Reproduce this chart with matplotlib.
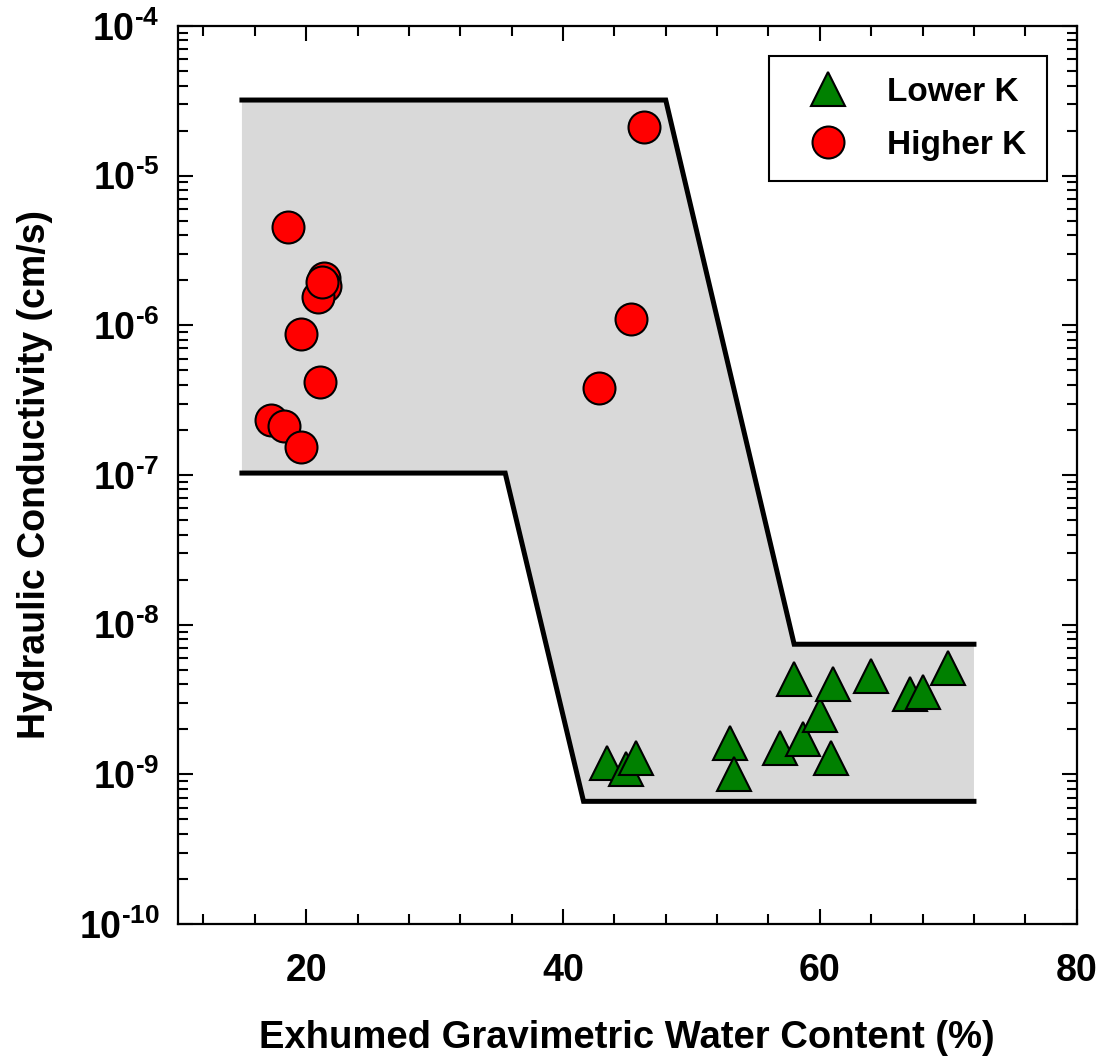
import matplotlib
matplotlib.use('Agg')
import matplotlib.pyplot as plt
import numpy as np
from matplotlib.ticker import FixedLocator, NullFormatter, FuncFormatter

plt.rcParams['font.family'] = ['Liberation Sans', 'DejaVu Sans']
plt.rcParams['font.weight'] = 'bold'
plt.rcParams['mathtext.fontset'] = 'custom'
plt.rcParams['mathtext.rm'] = 'Liberation Sans:bold'
plt.rcParams['mathtext.bf'] = 'Liberation Sans:bold'
plt.rcParams['mathtext.it'] = 'Liberation Sans:bold'
plt.rcParams['mathtext.default'] = 'regular'

# data
lower_x = [43.4, 44.9, 45.7, 53.0, 53.3, 56.9, 58.7, 60.0, 60.9, 58.0, 61.0, 64.0, 67.0, 68.0, 70.0]
lower_k = [1.19e-9, 1.08e-9, 1.29e-9, 1.63e-9, 1.0e-9, 1.51e-9, 1.73e-9, 2.48e-9, 1.29e-9,
           4.35e-9, 4.02e-9, 4.57e-9, 3.46e-9, 3.56e-9, 5.1e-9]

higher_x = [18.6, 21.4, 21.5, 20.9, 21.2, 19.6, 21.1, 17.3, 18.3, 19.6, 46.3, 45.3, 42.8]
higher_k = [4.56e-6, 2.07e-6, 1.84e-6, 1.54e-6, 1.94e-6, 8.7e-7, 4.17e-7, 2.34e-7, 2.14e-7,
            1.53e-7, 2.12e-5, 1.11e-6, 3.8e-7]

# envelope
upper_x = [15, 48, 58, 72]
upper_k = [3.2e-5, 3.2e-5, 7.4e-9, 7.4e-9]
bottom_x = [15, 35.5, 41.6, 72]
bottom_k = [1.03e-7, 1.03e-7, 6.6e-10, 6.6e-10]

x_major = [20, 40, 60, 80]
x_minor = [12, 16, 24, 28, 32, 36, 44, 48, 52, 56, 64, 68, 72, 76]
y_decades = [-10, -9, -8, -7, -6, -5, -4]

fig = plt.figure(figsize=(10.99, 10.60), dpi=100)
ax = fig.add_axes([0.1617, 0.1283, 0.818, 0.8472])

poly_x = upper_x + bottom_x[::-1]
poly_k = upper_k + bottom_k[::-1]
ax.fill(poly_x, poly_k, color='#d9d9d9', lw=0, zorder=1)
ax.plot(upper_x, upper_k, color='black', lw=3.6, zorder=2, solid_joinstyle='miter')
ax.plot(bottom_x, bottom_k, color='black', lw=3.6, zorder=2, solid_joinstyle='miter')

ax.plot(lower_x, lower_k, ls='none', marker='^', ms=25, mfc='#008000', mec='black',
        mew=1.5, label='Lower K', zorder=3)
ax.plot(higher_x, higher_k, ls='none', marker='o', ms=23, mfc='#ff0000', mec='black',
        mew=1.5, label='Higher K', zorder=3)

ax.set_yscale('log')
ax.set_xlim(10, 80)
ax.set_ylim(1e-10, 1e-4)

ax.xaxis.set_major_locator(FixedLocator(x_major))
ax.xaxis.set_minor_locator(FixedLocator(x_minor))
ax.yaxis.set_major_locator(FixedLocator([10.0 ** d for d in y_decades]))
ax.yaxis.set_minor_locator(FixedLocator([m * 10.0 ** d for d in y_decades[:-1] for m in range(2, 10)]))
ax.yaxis.set_minor_formatter(NullFormatter())
ax.yaxis.set_major_formatter(FuncFormatter(
    lambda v, p: r'$10^{\text{%d}}$' % int(round(np.log10(v)))))

ax.tick_params(which='both', direction='in', top=True, right=True, width=1.5,
               labelsize=27)
ax.tick_params(which='major', length=11)
ax.tick_params(which='minor', length=7)
ax.tick_params(axis='x', pad=21)
ax.tick_params(axis='y', pad=13)
for s in ax.spines.values():
    s.set_linewidth(1.6)

ax.set_xlabel('Exhumed Gravimetric Water Content (%)', fontsize=27.5, fontweight='bold', labelpad=22)
ax.set_ylabel('Hydraulic Conductivity (cm/s)', fontsize=27, fontweight='bold')
ax.yaxis.set_label_coords(-0.139, 0.5)

leg = ax.legend(loc='upper right', fontsize=24, frameon=True, fancybox=False,
                edgecolor='black', framealpha=1, borderaxespad=0.9, handletextpad=0.6,
                handlelength=2.3, borderpad=0.62, labelspacing=0.66, numpoints=1)
leg.get_frame().set_linewidth(1.5)
for t in leg.get_texts():
    t.set_fontweight('bold')

fig.savefig('out.png', dpi=100)
